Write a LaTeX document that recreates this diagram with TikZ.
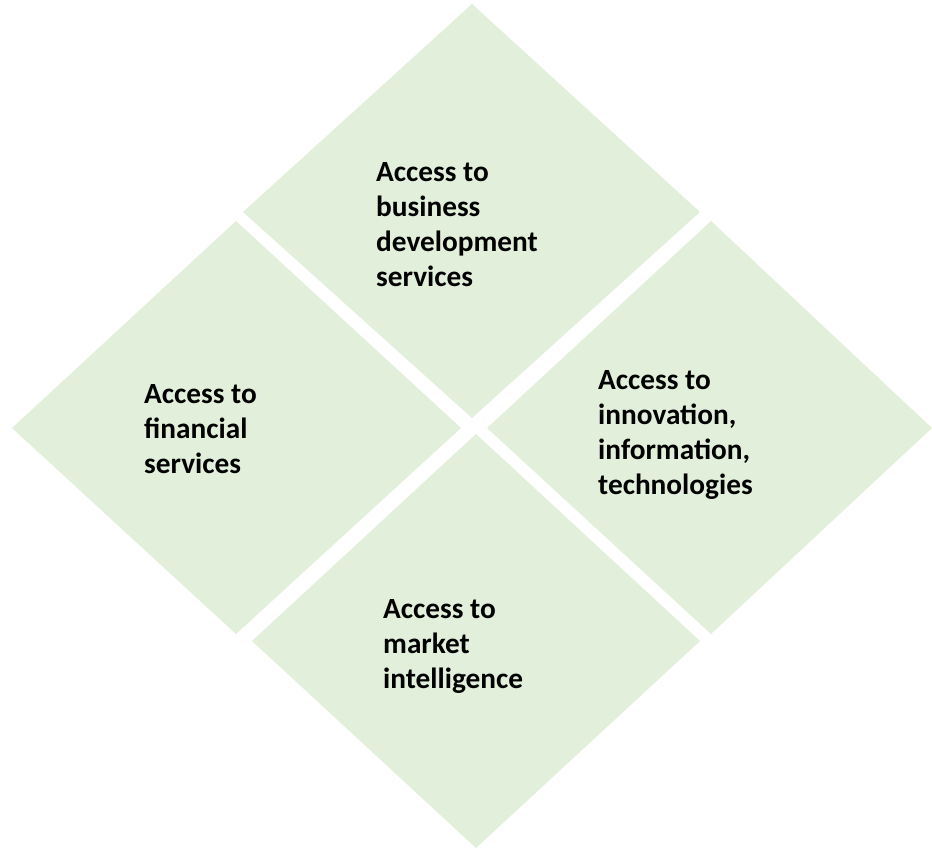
\documentclass[tikz,border=0pt]{standalone}
\usepackage{fontspec}
\setmainfont{Carlito}
\definecolor{tilegreen}{HTML}{E2EFDA}
\tikzset{
  tile/.style={fill=tilegreen, draw=none},
  tiletext/.style={anchor=north west, inner sep=0pt, align=left,
    font=\fontsize{29.3}{35}\selectfont\bfseries, text=black}
}
\begin{document}
\begin{tikzpicture}[x=1pt,y=-1pt]
\useasboundingbox (0,0) rectangle (932,849);
% tiles
\fill[tile] (472,4) -- (700,212) -- (472,418) -- (243,212) -- cycle;
\fill[tile] (236,221) -- (461,428) -- (236,634) -- (12,428) -- cycle;
\fill[tile] (711,221) -- (932,428) -- (711,634) -- (487,428) -- cycle;
\fill[tile] (476,434) -- (700,641) -- (476,848) -- (252,641) -- cycle;
% texts (anchor at first baseline minus strut height 24.5)
\node[tiletext] (tbds) at (376,156.5) {\strut Access to\\business\\development\\services};
\node[tiletext] (tfin) at (144,378.5) {\strut Access to\\financial\\services};
\node[tiletext] (tinn) at (598,364.5) {\strut Access to\\innovation,\\information,\\technologies};
\node[tiletext] (tmkt) at (383,593.5) {\strut Access to\\market\\intelligence};
\end{tikzpicture}
\end{document}
